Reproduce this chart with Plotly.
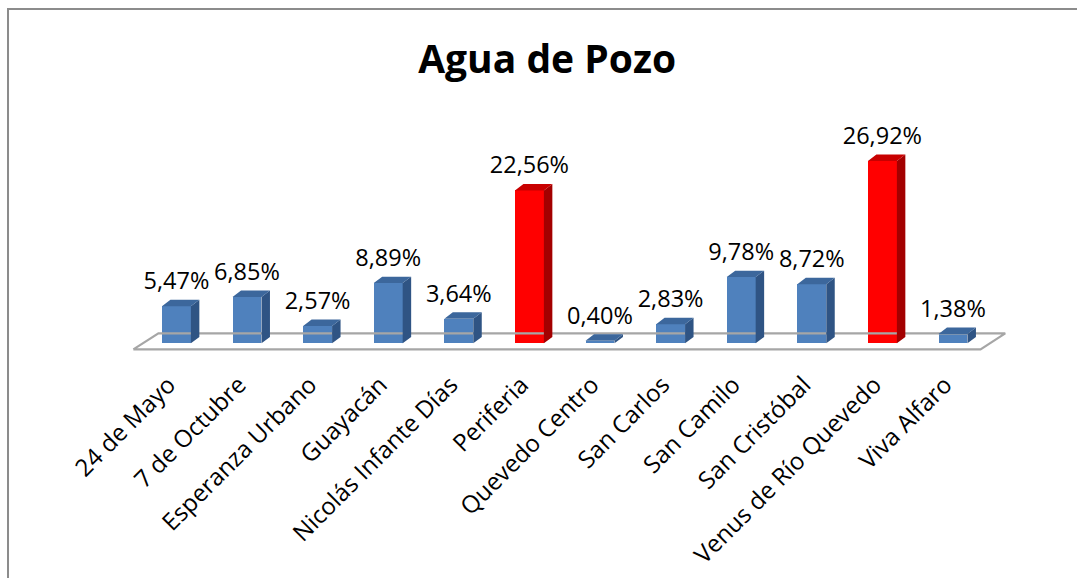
import plotly.graph_objects as go

# Data
categorias = ["24 de Mayo", "7 de Octubre", "Esperanza Urbano", "Guayacán",
              "Nicolás Infante Días", "Periferia", "Quevedo Centro", "San Carlos",
              "San Camilo", "San Cristóbal", "Venus de Río Quevedo", "Viva Alfaro"]
porcentajes = [5.47, 6.85, 2.57, 8.89, 3.64, 22.56, 0.40, 2.83, 9.78, 8.72, 26.92, 1.38]
destacados = ["Periferia", "Venus de Río Quevedo"]

# Colour sets (front, side, top) for normal and highlighted bars
AZUL = ("#4F81BD", "#2F5484", "#3C679C")
ROJO = ("#FF0000", "#A30000", "#C80000")

# 3D bar geometry in axis units
ANCHO = 0.41       # front face width (category units)
PROF_X = 0.12      # depth offset along x
PROF_Y = 0.95      # depth offset along y (value units)

n = len(categorias)
xs = list(range(n))
paleta = [ROJO if c in destacados else AZUL for c in categorias]

fig = go.Figure()

# Floor of the 3D plot (parallelogram)
piso_frente, piso_fondo = -0.88, 1.47
piso_x = [-0.61, n - 1 + 0.39, n - 1 + 0.74, -0.255, -0.61]
piso_y = [piso_frente, piso_frente, piso_fondo, piso_fondo, piso_frente]
fig.add_trace(go.Scatter(x=piso_x, y=piso_y, mode="lines",
                         line=dict(color="#A6A6A6", width=2.2),
                         hoverinfo="skip", showlegend=False))

# Side and top faces, one trace per colour set
for colores in (AZUL, ROJO):
    lado_x, lado_y, tapa_x, tapa_y = [], [], [], []
    for x, v, c in zip(xs, porcentajes, paleta):
        if c is not colores:
            continue
        izq, der = x - ANCHO / 2, x + ANCHO / 2
        lado_x += [der, der + PROF_X, der + PROF_X, der, der, None]
        lado_y += [0, PROF_Y, v + PROF_Y, v, 0, None]
        tapa_x += [izq, izq + PROF_X, der + PROF_X, der, izq, None]
        tapa_y += [v, v + PROF_Y, v + PROF_Y, v, v, None]
    fig.add_trace(go.Scatter(x=lado_x, y=lado_y, fill="toself", mode="lines",
                             fillcolor=colores[1], line=dict(width=0, color=colores[1]),
                             hoverinfo="skip", showlegend=False))
    fig.add_trace(go.Scatter(x=tapa_x, y=tapa_y, fill="toself", mode="lines",
                             fillcolor=colores[2], line=dict(width=0, color=colores[2]),
                             hoverinfo="skip", showlegend=False))

# Front faces
fig.add_trace(go.Bar(x=xs, y=porcentajes, width=ANCHO,
                     marker=dict(color=[c[0] for c in paleta], line=dict(width=0)),
                     showlegend=False))

# Value labels
etiquetas = [f"{v:.2f}".replace(".", ",") + "%" for v in porcentajes]
fig.add_trace(go.Scatter(x=xs, y=[v + PROF_Y + 0.7 for v in porcentajes], mode="text",
                         text=etiquetas, textposition="top center",
                         textfont=dict(family="Open Sans", size=23.5, color="#000000"),
                         cliponaxis=False, hoverinfo="skip", showlegend=False))

fig.update_layout(
    width=1077, height=578, autosize=False,
    margin=dict(l=127, r=64, t=140, b=225),
    paper_bgcolor="white", plot_bgcolor="white",
    title=dict(text="<b>Agua de Pozo</b>", x=0.508, xref="container", xanchor="center",
               y=0.898, yref="container", yanchor="middle",
               font=dict(family="Open Sans", size=39, color="#000000")),
    xaxis=dict(range=[-0.7, 11.85], tickmode="array", tickvals=xs, ticktext=categorias,
               tickangle=-45, tickfont=dict(family="Open Sans", size=24, color="#000000"),
               ticklabelstandoff=12, ticklabelshift=-8, automargin=False,
               showgrid=False, zeroline=False, showline=False, ticks=""),
    yaxis=dict(range=[-1.42, 30], visible=False, showgrid=False, zeroline=False,
               automargin=False),
    shapes=[dict(type="rect", xref="paper", yref="paper",
                 x0=-0.1343, x1=1.3, y0=-1.5, y1=1.615,
                 line=dict(color="#8C8C8C", width=2), fillcolor="rgba(0,0,0,0)",
                 layer="below")],
    bargap=0,
)

fig.write_html("out.html")
